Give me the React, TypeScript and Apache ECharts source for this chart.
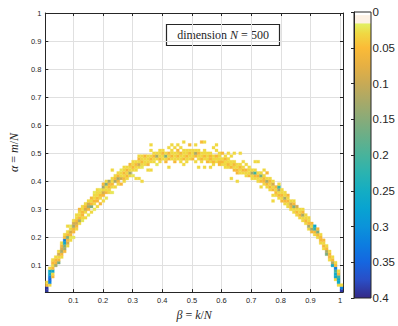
import React, { useEffect, useRef } from "react";
import * as echarts from "echarts";

// ---- tick values and labels ----
const axisTicks = [0.1, 0.2, 0.3, 0.4, 0.5, 0.6, 0.7, 0.8, 0.9, 1];
const axisTickLabels = ["0.1", "0.2", "0.3", "0.4", "0.5", "0.6", "0.7", "0.8", "0.9", "1"];
const cbTicks = [0, 0.05, 0.1, 0.15, 0.2, 0.25, 0.3, 0.35, 0.4];
const cbTickLabels = ["0", "0.05", "0.1", "0.15", "0.2", "0.25", "0.3", "0.35", "0.4"];
const xTitle = "{i|β} = {i|k}/{i|N}";
const yTitle = "{i|α} = {i|m}/{i|N}";
const boxText = "{n|dimension }{i|N}{n| = 500}";

// ---- cells: [k-bin (β×100), m-bin (α×100), probability] ----
const leftArc: [number, number, number][] = [
  [1,1,.39],[1,2,.39],[1,3,.055],[1,4,.03],
  [2,3,.03],[2,4,.32],[2,5,.35],[2,6,.32],[2,7,.26],[2,8,.26],[2,9,.03],
  [3,6,.055],[3,7,.03],[3,8,.26],[3,9,.055],[3,10,.03],[3,11,.055],[3,12,.03],
  [4,10,.125],[4,11,.055],[4,12,.055],[4,13,.03],
  [5,11,.16],[5,12,.055],[5,13,.03],[5,14,.09],[5,15,.03],
  [6,13,.03],[6,14,.055],[6,15,.125],[6,16,.09],[6,17,.055],[6,18,.03],
  [7,15,.055],[7,16,.125],[7,17,.16],[7,18,.26],[7,19,.32],[7,20,.055],[7,21,.03],
  [8,17,.03],[8,18,.09],[8,19,.055],[8,20,.16],[8,21,.055],[8,22,.03],[8,24,.03],
  [9,19,.03],[9,20,.022],[9,21,.055],[9,22,.09],[9,23,.03],[9,24,.022],
  [10,20,.022],[10,22,.055],[10,23,.055],[10,24,.125],[10,25,.09],[10,26,.03],
  [11,23,.03],[11,24,.055],[11,25,.09],[11,26,.055],[11,27,.03],[11,28,.03],
  [12,25,.03],[12,26,.125],[12,27,.055],[12,28,.03],[12,29,.03],[12,30,.055],
  [13,26,.022],[13,27,.03],[13,28,.055],[13,29,.055],[13,30,.03],[13,31,.03],
  [14,27,.03],[14,29,.03],[14,30,.09],[14,31,.055],[14,32,.03],
  [15,28,.022],[15,30,.055],[15,31,.125],[15,32,.09],[15,33,.03],
  [16,29,.03],[16,31,.16],[16,32,.055],[16,33,.03],[16,34,.055],
  [17,30,.022],[17,32,.03],[17,33,.055],[17,34,.03],[17,35,.03],[17,36,.022],
  [18,31,.03],[18,33,.055],[18,34,.055],[18,35,.03],[18,36,.03],[18,37,.03],
  [19,32,.055],[19,34,.03],[19,35,.055],[19,36,.03],[19,37,.022],
  [20,33,.03],[20,35,.055],[20,36,.09],[20,37,.03],[20,38,.125],[20,39,.055],
  [21,34,.022],[21,36,.055],[21,37,.03],[21,38,.03],[21,39,.16],[21,40,.03],
  [22,36,.03],[22,37,.03],[22,38,.055],[22,39,.055],[22,40,.125],
  [23,36,.022],[23,38,.03],[23,39,.055],[23,40,.03],[23,41,.03],[23,44,.03],
  [24,38,.03],[24,40,.125],[24,41,.055],[24,42,.03],
  [25,39,.03],[25,40,.055],[25,41,.125],[25,42,.055],[25,43,.03],
  [26,39,.055],[26,41,.09],[26,42,.03],[26,43,.03],[26,44,.022],
  [27,40,.03],[27,41,.055],[27,42,.03],[27,43,.055],[27,44,.03],[27,45,.03],
  [28,41,.03],[28,42,.055],[28,43,.03],[28,44,.055],[28,45,.03],
  [29,42,.03],[29,43,.125],[29,44,.03],[29,45,.03],[29,46,.055],
  [30,42,.022],[30,44,.03],[30,45,.055],[30,46,.03],[30,47,.03],
  [31,41,.03],[31,44,.03],[31,45,.03],[31,46,.055],[31,47,.03],
  [32,41,.03],[32,45,.03],[32,46,.09],[32,47,.03],[32,48,.055],[32,49,.03],
  [33,40,.03],[33,45,.022],[33,46,.03],[33,47,.055],[33,48,.03],[33,49,.03],
];

const topArc: [number, number, number][] = [
  [34,46,.03],[34,47,.03],[34,48,.03],[34,49,.055],
  [35,44,.03],[35,46,.055],[35,47,.03],[35,48,.03],[35,49,.03],
  [36,44,.03],[36,47,.03],[36,48,.055],[36,49,.03],[36,51,.03],[36,53,.03],
  [37,47,.03],[37,48,.03],[37,49,.055],[37,50,.03],
  [38,46,.022],[38,48,.03],[38,49,.125],[38,50,.03],
  [39,47,.03],[39,48,.055],[39,49,.03],[39,50,.03],[39,51,.03],
  [40,48,.03],[40,49,.03],[40,50,.055],[40,51,.03],
  [41,47,.055],[41,48,.03],[41,49,.16],[41,50,.03],
  [42,45,.03],[42,48,.055],[42,49,.03],[42,50,.055],[42,52,.03],
  [43,48,.03],[43,49,.055],[43,50,.03],[43,51,.03],[43,53,.03],
  [44,47,.055],[44,48,.03],[44,49,.03],[44,50,.03],[44,52,.03],
  [45,48,.03],[45,49,.055],[45,50,.03],[45,51,.055],[45,53,.03],
  [46,47,.03],[46,48,.03],[46,49,.03],[46,50,.055],[46,52,.03],
  [47,46,.03],[47,48,.055],[47,49,.03],[47,50,.03],[47,51,.03],[47,54,.03],
  [48,47,.03],[48,48,.03],[48,49,.055],[48,50,.03],[48,51,.03],
  [49,48,.03],[49,49,.03],[49,50,.055],[49,51,.03],[49,53,.055],
  [50,48,.055],[50,49,.03],[50,50,.03],[50,51,.03],
  [51,47,.03],[51,49,.055],[51,50,.125],[51,51,.03],[51,53,.03],
  [52,45,.03],[52,48,.03],[52,49,.03],[52,50,.055],[52,51,.03],
  [53,47,.03],[53,48,.055],[53,49,.03],[53,50,.03],[53,54,.055],
  [54,45,.03],[54,48,.03],[54,49,.055],[54,50,.03],[54,51,.03],[54,54,.03],
  [55,47,.055],[55,48,.03],[55,49,.03],[55,50,.03],
  [56,45,.03],[56,47,.03],[56,48,.055],[56,49,.055],[56,50,.03],
  [57,46,.03],[57,47,.055],[57,48,.03],[57,49,.03],[57,52,.03],
  [58,47,.03],[58,48,.03],[58,49,.055],[58,51,.03],[58,53,.03],
  [59,46,.055],[59,47,.055],[59,48,.03],[59,49,.03],[59,50,.03],
  [60,46,.03],[60,47,.055],[60,48,.03],[60,50,.055],
  [61,45,.03],[61,46,.03],[61,47,.03],[61,48,.055],[61,49,.03],
  [62,45,.03],[62,46,.055],[62,47,.03],[62,48,.03],[62,50,.03],
  [63,41,.03],[63,45,.055],[63,46,.03],[63,47,.03],[63,49,.03],
  [64,44,.055],[64,45,.03],[64,46,.055],[64,47,.03],[64,50,.03],
  [65,40,.03],[65,43,.055],[65,44,.055],[65,45,.03],[65,46,.03],
  [66,43,.03],[66,44,.03],[66,45,.055],[66,46,.03],[66,50,.03],
];

const rightArc: [number, number, number][] = [
  [67,43,.03],[67,44,.055],[67,45,.03],[67,47,.03],
  [68,42,.03],[68,43,.03],[68,44,.055],[68,46,.03],
  [69,42,.055],[69,43,.03],[69,44,.03],[69,45,.03],
  [70,41,.03],[70,42,.03],[70,43,.125],[70,44,.03],
  [71,41,.03],[71,42,.055],[71,43,.21],[71,44,.03],[71,47,.03],
  [72,40,.03],[72,41,.03],[72,42,.055],[72,43,.03],[72,47,.03],
  [73,38,.03],[73,40,.055],[73,41,.03],[73,42,.16],[73,43,.03],
  [74,39,.03],[74,40,.055],[74,41,.055],[74,42,.03],[74,44,.03],
  [75,38,.03],[75,39,.055],[75,40,.125],[75,41,.03],[75,43,.055],
  [76,37,.03],[76,38,.055],[76,39,.03],[76,40,.055],[76,41,.03],
  [77,33,.03],[77,35,.03],[77,37,.055],[77,38,.03],[77,39,.09],[77,40,.03],
  [78,35,.03],[78,36,.055],[78,37,.03],[78,38,.055],
  [79,34,.03],[79,35,.055],[79,36,.03],[79,37,.125],[79,38,.21],[79,39,.03],
  [80,33,.055],[80,34,.03],[80,35,.055],[80,36,.03],[80,37,.03],
  [81,32,.03],[81,33,.055],[81,34,.125],[81,35,.03],[81,36,.03],
  [82,31,.03],[82,32,.03],[82,33,.055],[82,34,.03],[82,35,.055],
  [83,30,.03],[83,31,.055],[83,32,.09],[83,33,.03],
  [84,29,.03],[84,30,.03],[84,31,.16],[84,32,.055],[84,33,.03],
  [85,28,.03],[85,29,.055],[85,30,.03],[85,31,.09],
  [86,27,.03],[86,28,.055],[86,29,.03],[86,30,.03],
  [87,26,.03],[87,27,.03],[87,28,.125],[87,29,.055],[87,30,.03],
  [88,25,.03],[88,26,.055],[88,27,.03],[88,28,.03],
  [89,23,.03],[89,24,.125],[89,25,.055],[89,26,.03],[89,27,.03],
  [90,22,.055],[90,23,.125],[90,24,.03],[90,25,.055],
  [91,21,.03],[91,22,.055],[91,23,.21],[91,24,.26],
  [92,20,.03],[92,21,.055],[92,22,.16],[92,23,.055],
  [93,18,.03],[93,19,.055],[93,20,.055],[93,21,.03],
  [94,16,.03],[94,17,.055],[94,18,.03],[94,19,.055],
  [95,14,.16],[95,15,.125],[95,16,.055],[95,17,.03],
  [96,12,.03],[96,13,.055],[96,14,.055],[96,15,.03],
  [97,10,.26],[97,11,.125],[97,12,.055],[97,13,.03],
  [98,5,.03],[98,6,.26],[98,7,.26],[98,8,.21],[98,9,.32],[98,10,.055],[98,11,.03],
  [99,3,.03],[99,4,.26],[99,5,.26],[99,6,.21],[99,7,.055],[99,8,.03],
  [100,1,.39],[100,2,.32],[100,3,.03],
];

// ---- colormap (value -> colour), reversed parula with white floor ----
const cmapValues = [0, 0.004, 0.005, 0.015, 0.017, 0.03, 0.05, 0.075, 0.1, 0.125, 0.15, 0.175, 0.2, 0.225, 0.25, 0.275, 0.3, 0.325, 0.35, 0.375, 0.4];
const cmapColors = ["#ffffff", "#ffffff", "#fdf1e4", "#fdf1e4", "#e2ef62", "#f0d843", "#fbbb37", "#e6b043", "#c8aa55", "#a8a968", "#88ab79", "#68af89", "#48b39b", "#2bb3b0", "#14adc3", "#08a3d1", "#0b93da", "#0c7de0", "#1566e0", "#2a4ec6", "#352a87"];
const CB_MAX = 0.4;

// bin geometry
const X_MIN = 0.005, X_MAX = 1.01, Y_MIN = 0.005, Y_MAX = 1;
const BIN_W = (X_MAX - X_MIN) / 100;
const BIN_H = 0.01;

function hexToRgb(h: string) {
  const n = parseInt(h.slice(1), 16);
  return [(n >> 16) & 255, (n >> 8) & 255, n & 255];
}
function colorFor(v: number) {
  if (v <= cmapValues[0]) return cmapColors[0];
  for (let k = 1; k < cmapValues.length; k++) {
    if (v <= cmapValues[k]) {
      const t = (v - cmapValues[k - 1]) / (cmapValues[k] - cmapValues[k - 1]);
      const a = hexToRgb(cmapColors[k - 1]);
      const b = hexToRgb(cmapColors[k]);
      const c = a.map((x, idx) => Math.round(x + (b[idx] - x) * t));
      return `rgb(${c[0]},${c[1]},${c[2]})`;
    }
  }
  return cmapColors[cmapColors.length - 1];
}
function labelFor(v: number, ticks: number[], labels: string[]) {
  const idx = ticks.findIndex((t) => Math.abs(t - v) < 1e-6);
  return idx >= 0 ? labels[idx] : "";
}

const AX = "#262626";
const GRIDC = "#e0e0e0";
const SANS = "Liberation Sans, Arial, sans-serif";
const SERIF = "Liberation Serif, Times New Roman, serif";

export default function App() {
  const ref = useRef<HTMLDivElement>(null);
  useEffect(() => {
    if (!ref.current) return;
    const chart = echarts.init(ref.current, undefined, { renderer: "svg" });
    const cells = [...leftArc, ...topArc, ...rightArc];
    const tickLabel = { fontSize: 7.5, color: AX, fontFamily: SANS };
    const baseAxis = (extra: any) => ({
      type: "value",
      axisLine: { show: true, lineStyle: { color: AX, width: 1 } },
      axisTick: { show: true, inside: true, length: 3, lineStyle: { color: AX }, customValues: axisTicks },
      splitLine: { show: false },
      ...extra,
    });
    const option: any = {
      animation: false,
      backgroundColor: "#ffffff",
      grid: [
        { left: 31, top: 13, width: 312, height: 285, containLabel: false },
        { left: 354, top: 12, width: 17, height: 286, containLabel: false },
      ],
      xAxis: [
        baseAxis({
          gridIndex: 0, min: X_MIN, max: X_MAX, position: "bottom",
          splitLine: { show: true, lineStyle: { color: GRIDC, width: 1 } },
          axisLabel: { ...tickLabel, margin: 4, customValues: axisTicks, formatter: (v: number) => labelFor(v, axisTicks, axisTickLabels) },
          name: xTitle, nameLocation: "middle", nameGap: 10,
          nameTextStyle: { fontFamily: SERIF, fontSize: 12, color: AX, rich: { i: { fontFamily: SERIF, fontSize: 12, fontStyle: "italic", color: AX } } },
        }),
        baseAxis({ gridIndex: 0, min: X_MIN, max: X_MAX, position: "top", axisLabel: { show: false } }),
        { type: "value", gridIndex: 1, min: 0, max: 1, show: false },
      ],
      yAxis: [
        baseAxis({
          gridIndex: 0, min: Y_MIN, max: Y_MAX, position: "left",
          splitLine: { show: true, lineStyle: { color: GRIDC, width: 1 } },
          axisLabel: { ...tickLabel, margin: 4, customValues: axisTicks, formatter: (v: number) => labelFor(v, axisTicks, axisTickLabels) },
          name: yTitle, nameLocation: "middle", nameGap: 20,
          nameTextStyle: { fontFamily: SERIF, fontSize: 12, color: AX, rich: { i: { fontFamily: SERIF, fontSize: 12, fontStyle: "italic", color: AX } } },
        }),
        baseAxis({ gridIndex: 0, min: Y_MIN, max: Y_MAX, position: "right", axisLabel: { show: false } }),
        {
          type: "value", gridIndex: 1, min: 0, max: CB_MAX, interval: 0.05, inverse: true, position: "right", z: 5,
          axisLine: { show: true, lineStyle: { color: AX } },
          axisTick: { show: true, inside: true, length: 3, lineStyle: { color: AX } },
          splitLine: { show: false },
          axisLabel: { fontSize: 11.5, color: AX, fontFamily: SANS, margin: 3, formatter: (v: number) => labelFor(v, cbTicks, cbTickLabels) },
        },
      ],
      series: [
        {
          type: "custom",
          xAxisIndex: 0,
          yAxisIndex: 0,
          data: cells,
          clip: true,
          renderItem: (_p: any, api: any) => {
            const i = api.value(0);
            const j = api.value(1);
            const v = api.value(2);
            const cx = X_MIN + BIN_W * (i - 0.5);
            const cy = j * BIN_H;
            const p0 = api.coord([cx - BIN_W / 2, cy + BIN_H / 2]);
            const p1 = api.coord([cx + BIN_W / 2, cy - BIN_H / 2]);
            const col = colorFor(v);
            return {
              type: "rect",
              shape: { x: p0[0], y: p0[1], width: p1[0] - p0[0], height: p1[1] - p0[1] },
              style: { fill: col, stroke: col, lineWidth: 0.3 },
            };
          },
        },
      ],
      graphic: [
        {
          type: "rect",
          z: 1,
          shape: { x: 354, y: 12, width: 17, height: 286 },
          style: {
            fill: new echarts.graphic.LinearGradient(0, 0, 0, 1,
              cmapValues.map((v, k) => ({ offset: v / CB_MAX, color: cmapColors[k] }))),
            stroke: AX,
            lineWidth: 1,
          },
        },
        {
          type: "group",
          z: 10,
          children: [
            {
              type: "rect",
              shape: { x: 166.5, y: 24.5, width: 113, height: 21 },
              style: { fill: "#ffffff", stroke: AX, lineWidth: 1.2 },
            },
            {
              type: "text",
              x: 223,
              y: 35,
              style: {
                text: boxText,
                align: "center",
                verticalAlign: "middle",
                fill: AX,
                fontFamily: SERIF,
                fontSize: 12,
                rich: {
                  n: { fontFamily: SERIF, fontSize: 12, fill: AX },
                  i: { fontFamily: SERIF, fontSize: 12, fontStyle: "italic", fill: AX },
                },
              },
            },
          ],
        },
      ],
    };
    chart.setOption(option);
    return () => chart.dispose();
  }, []);
  return <div ref={ref} style={{ width: 398, height: 326, position: "absolute", left: 0, top: 0 }} />;
}
